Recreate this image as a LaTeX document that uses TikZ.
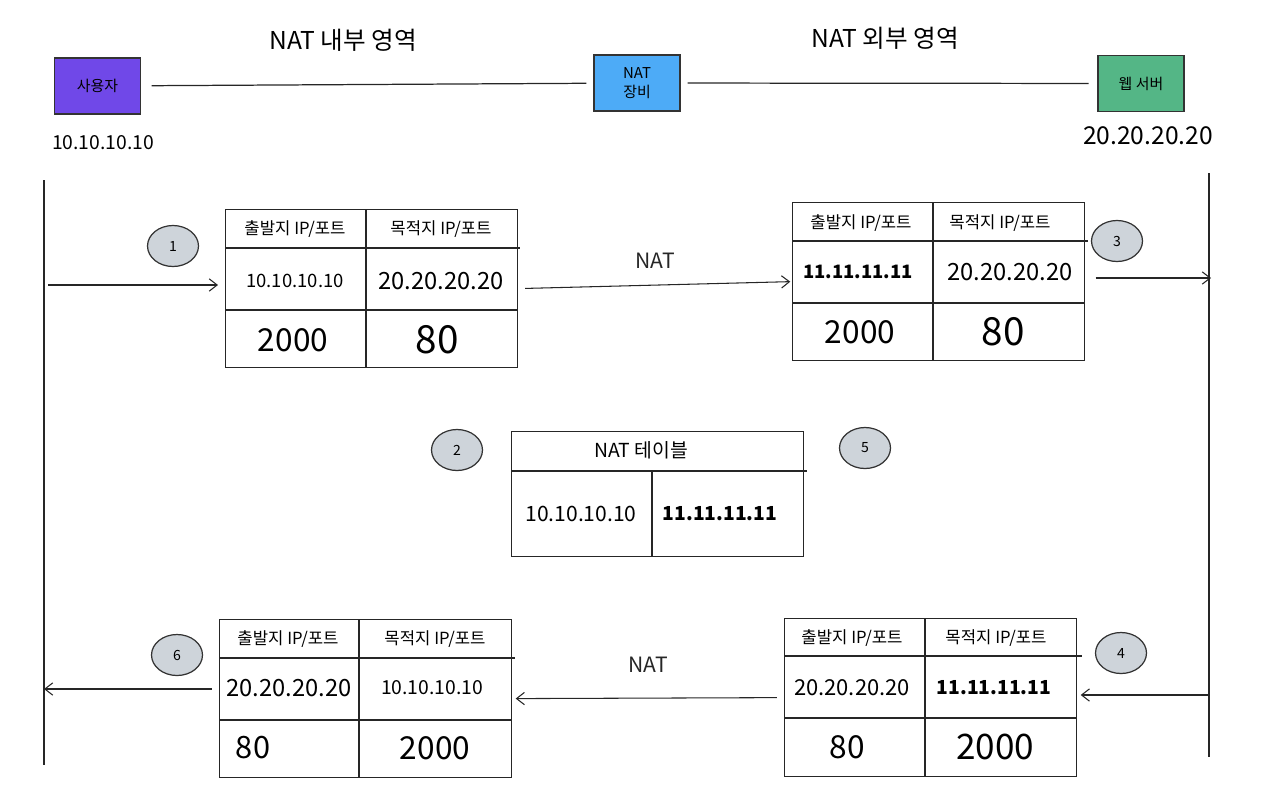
\documentclass[tikz,border=0pt]{standalone}
\usepackage{fontspec}
\setmainfont{Noto Sans CJK KR}
\usetikzlibrary{arrows.meta,shapes.geometric,calc}
\definecolor{userviolet}{RGB}{112,72,232}
\definecolor{natblue}{RGB}{77,171,247}
\definecolor{webgreen}{RGB}{84,182,134}
\definecolor{badgegray}{RGB}{206,212,218}

\begin{document}
\begin{tikzpicture}[x=0.02cm,y=-0.02cm,>={Straight Barb[length=4.5pt,width=7pt]},
    txt/.style={inner sep=0,font=\fontsize{#1}{#1}\selectfont},
    hostbox/.style={rectangle,draw=black!80,line width=0.8pt,minimum width=1.72cm,minimum height=1.12cm,align=center,font=\fontsize{8.5}{10.5}\selectfont},
    numbadge/.style={ellipse,draw=black!80,line width=0.7pt,fill=badgegray,minimum width=1.02cm,minimum height=0.82cm,inner sep=0,font=\fontsize{8}{9}\selectfont},
    pkt/.style={rectangle,draw=black!85,line width=0.7pt,inner sep=0,anchor=north west,minimum width=5.84cm,minimum height=3.16cm},
    grid/.style={draw=black!85,line width=0.7pt},
    flow/.style={->,line width=0.6pt,black!85}]
    \useasboundingbox (0,0) rectangle (1280,805);

    % Zones and hosts (top)
    \node[txt=14] (inZone) at (343,40) {NAT 내부 영역};
    \node[txt=14] (outZone) at (885,38) {NAT 외부 영역};
    \node[hostbox,fill=userviolet] (user) at (97.5,86) {사용자};
    \node[hostbox,fill=natblue] (nat) at (637,83) {NAT\\장비};
    \node[hostbox,fill=webgreen] (web) at (1141,83.5) {웹 서버};
    \node[txt=11] (userIP) at (103,143) {10.10.10.10};
    \node[txt=14] (webIP) at (1148,136) {20.20.20.20};
    \draw[grid,shorten <=6pt,shorten >=4pt] (user) -- (nat);
    \draw[grid,shorten <=4pt,shorten >=5pt] (nat) -- (web);

    % Lifelines
    \coordinate (lTop) at (44,180);
    \coordinate (lBot) at (44,765);
    \coordinate (rTop) at (1209,173);
    \coordinate (rBot) at (1209,757);
    \draw[grid] (lTop) -- (lBot);
    \draw[grid] (rTop) -- (rBot);

    % Step badges
    \node[numbadge] (s1) at (173,246) {1};
    \node[numbadge] (s2) at (457,450) {2};
    \node[numbadge] (s3) at (1117,241) {3};
    \node[numbadge] (s4) at (1121,653) {4};
    \node[numbadge] (s5) at (865,448) {5};
    \node[numbadge] (s6) at (177,655) {6};

    % Packet 1: user -> NAT
    \node[pkt] (pkt1) at (225,209) {};
    \draw[grid] (225,248) -- (520,248);
    \draw[grid] (225,310) -- (517,310);
    \draw[grid] (366,209) -- (366,367);
    \node[txt=9.5] (p1sh) at (295,229) {출발지 IP/포트};
    \node[txt=9.5] (p1dh) at (441,229) {목적지 IP/포트};
    \node[txt=10.5] (p1sip) at (295,281) {10.10.10.10};
    \node[txt=13.5] (p1dip) at (441,281) {20.20.20.20};
    \node[txt=18] (p1sp) at (293,340) {2000};
    \node[txt=22] (p1dp) at (437,340) {80};

    % Packet 2: NAT -> web server
    \node[pkt] (pkt2) at (792,202) {};
    \draw[grid] (792,241) -- (1088,241);
    \draw[grid] (792,303) -- (1084,303);
    \draw[grid] (933,202) -- (933,360);
    \node[txt=9.5] (p2sh) at (861,223) {출발지 IP/포트};
    \node[txt=9.5] (p2dh) at (1000,223) {목적지 IP/포트};
    \node[txt=10,font=\fontsize{10.5}{10.5}\selectfont\bfseries] (p2sip) at (858,272) {11.11.11.11};
    \node[txt=13.5] (p2dip) at (1010,272) {20.20.20.20};
    \node[txt=18] (p2sp) at (860,332) {2000};
    \node[txt=22] (p2dp) at (1003,332) {80};

    % NAT table
    \node[pkt,minimum height=2.5cm] (natTable) at (511,431) {};
    \draw[grid] (511,471) -- (807,471);
    \draw[grid] (652,471) -- (652,556);
    \node[txt=11] (tblHead) at (641,450) {NAT 테이블};
    \node[txt=12] (tblIn) at (581,514) {10.10.10.10};
    \node[txt=10.5,font=\fontsize{11}{11}\selectfont\bfseries] (tblOut) at (720,514) {11.11.11.11};

    % Packet 4: web server -> NAT
    \node[pkt] (pkt4) at (784,618) {};
    \draw[grid] (784,656) -- (1082,656);
    \draw[grid] (784,718) -- (1076,718);
    \draw[grid] (925,618) -- (925,776);
    \node[txt=9.5] (p4sh) at (852,638) {출발지 IP/포트};
    \node[txt=9.5] (p4dh) at (996,638) {목적지 IP/포트};
    \node[txt=12.5] (p4sip) at (852,688) {20.20.20.20};
    \node[txt=10,font=\fontsize{11}{11}\selectfont\bfseries] (p4dip) at (994,688) {11.11.11.11};
    \node[txt=18] (p4sp) at (847,747) {80};
    \node[txt=20] (p4dp) at (995,747) {2000};

    % Packet 6: NAT -> user
    \node[pkt] (pkt6) at (219,619) {};
    \draw[grid] (219,658) -- (515,658);
    \draw[grid] (219,720) -- (511,720);
    \draw[grid] (359,619) -- (359,777);
    \node[txt=9.5] (p6sh) at (288,639) {출발지 IP/포트};
    \node[txt=9.5] (p6dh) at (435,639) {목적지 IP/포트};
    \node[txt=13.5] (p6sip) at (289,688) {20.20.20.20};
    \node[txt=11] (p6dip) at (432,688) {10.10.10.10};
    \node[txt=17.5] (p6sp) at (253,748) {80};
    \node[txt=18] (p6dp) at (435,748) {2000};

    % Flow arrows
    \coordinate (in1) at (48,285);
    \coordinate (out3) at (1211,278);
    \coordinate (in4) at (1209,695);
    \coordinate (out6) at (44,689);
    \draw[flow,shorten >=4pt] (in1) -- (pkt1.west |- in1);
    \draw[flow,shorten <=4pt,shorten >=1pt] (pkt1.east) -- (pkt2.west) node[midway,above=9pt,txt=12] (nat1) {NAT};
    \draw[flow,shorten <=6pt] (pkt2.east |- out3) -- (out3);
    \draw[flow,shorten >=2pt] (in4) -- (pkt4.east |- in4);
    \draw[flow,shorten <=4pt,shorten >=2pt] (pkt4.west) -- (pkt6.east) node[midway,above=14pt,txt=12] (nat2) {NAT};
    \draw[flow,shorten <=4pt] (pkt6.west |- out6) -- (out6);
\end{tikzpicture}
\end{document}
